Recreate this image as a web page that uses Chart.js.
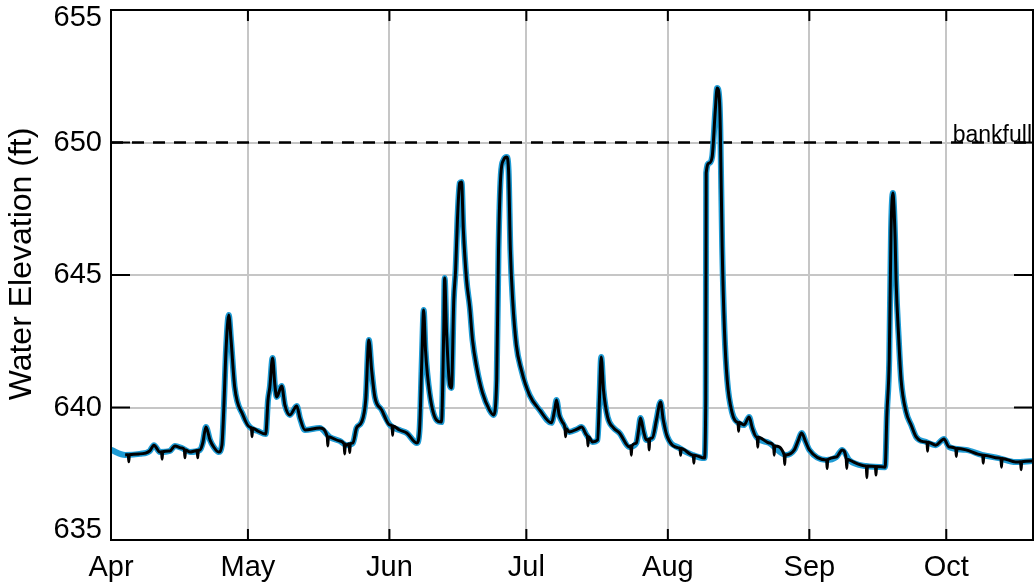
<!DOCTYPE html>
<html>
<head>
<meta charset="utf-8">
<script src="https://cdn.jsdelivr.net/npm/chart.js@4.4.1/dist/chart.umd.min.js"></script>
<style>
  html, body { margin: 0; padding: 0; background: #fff; }
  #wrap { width: 1035px; height: 588px; }
</style>
</head>
<body>
<div id="wrap"><canvas id="stage" width="1035" height="588"></canvas></div>
<script>
// days since Apr 1, water elevation (ft)
const modeled = [
  [0,638.40],[3.1,638.21],[6.3,638.25],[8.5,638.36],[9.4,638.58],[10.7,638.32],[12.9,638.36],[14.0,638.55],
  [15.5,638.47],[17.3,638.32],[19.5,638.40],[20.1,638.66],[20.8,639.26],[21.7,638.77],[22.5,638.51],[23.6,638.32],
  [24.3,638.58],[24.7,639.91],[25.2,642.17],[25.8,643.49],[26.3,642.55],[27.1,640.77],[28.9,639.72],[30.4,639.26],
  [32.2,639.11],[33.9,639.00],[34.4,640.28],[34.8,640.77],[35.4,641.87],[35.9,640.85],[36.3,640.40],[37.4,640.81],
  [38.1,640.09],[39.2,639.72],[40.7,640.06],[41.4,639.60],[42.5,639.15],[45.7,639.23],[47.9,638.89],[50.1,638.74],
  [51.6,638.58],[53.0,638.66],[53.8,639.23],[54.9,639.45],[55.8,640.28],[56.5,642.55],[57.1,641.42],[57.8,640.40],
  [59.3,639.91],[61.1,639.34],[63.2,639.15],[64.8,639.04],[67.0,638.66],[67.6,639.15],[68.1,641.79],[68.5,643.68],
  [68.9,642.17],[69.8,640.55],[71.3,639.53],[72.4,639.45],[72.9,642.92],[73.1,644.89],[73.5,642.92],[74.2,640.85],
  [74.6,640.74],[75.1,644.06],[75.5,645.19],[75.9,647.08],[76.4,648.47],[76.8,648.51],[77.2,646.70],[77.9,644.81],
  [78.6,643.79],[79.2,642.55],[80.1,641.53],[81.4,640.55],[82.9,639.91],[83.8,639.72],[84.5,641.04],[84.9,645.94],
  [85.4,648.77],[86.0,649.34],[86.7,649.45],[87.1,648.96],[87.5,645.94],[88.0,644.06],[88.8,642.36],[89.9,641.42],
  [91.7,640.47],[93.9,639.91],[96.5,639.42],[97.2,639.91],[97.6,640.28],[98.2,639.72],[98.9,639.45],[100.4,639.08],
  [102.2,639.19],[103.1,639.26],[104.2,638.96],[105.5,638.70],[106.6,638.77],[107.0,640.28],[107.4,641.91],[107.9,640.66],
  [108.8,639.64],[110.1,639.23],[111.4,639.04],[113.6,638.51],[115.1,638.66],[115.6,639.15],[116.0,639.60],[116.7,639.08],
  [117.3,638.77],[118.6,638.85],[119.5,639.53],[120.4,640.21],[121.0,639.53],[121.9,638.89],[124.5,638.47],[127.4,638.21],
  [130.0,638.09],[130.3,640.28],[130.4,648.85],[131.1,649.23],[131.7,649.45],[132.4,651.23],[132.8,652.06],[133.3,651.60],
  [133.5,650.47],[133.9,646.06],[134.4,642.92],[135.0,641.04],[136.1,639.79],[137.2,639.45],[138.7,639.34],[139.8,639.64],
  [140.5,639.23],[141.4,638.89],[144.2,638.66],[147.9,638.21],[149.7,638.40],[150.6,638.77],[151.3,639.04],[152.2,638.70],
  [153.0,638.40],[156.7,638.02],[158.9,638.13],[160.2,638.40],[161.7,638.02],[165.4,637.79],[169.6,637.75],[170.0,639.79],
  [170.5,641.79],[170.9,646.70],[171.3,648.09],[171.8,646.32],[172.0,644.81],[172.6,642.55],[173.1,641.04],[174.2,639.83],
  [175.3,639.34],[176.4,638.89],[178.6,638.70],[180.7,638.58],[182.5,638.81],[183.6,638.51],[187.3,638.40],[190.8,638.21],
  [194.5,638.09],[198.2,637.94],[201.8,637.98]
];

// short downward spikes in the gauge record: [day, level around it, bottom of spike]
const gaugeDips = [
  [3.9,638.22,637.95],[11.2,638.33,638.05],[16.2,638.40,638.10],[19.0,638.38,638.10],[30.9,639.22,638.90],
  [47.5,638.90,638.55],[51.2,638.62,638.25],[52.3,638.63,638.30],[61.7,639.30,638.95],[99.6,639.20,638.90],
  [104.5,638.90,638.55],[114.0,638.55,638.20],[117.9,638.80,638.40],[124.8,638.45,638.20],[127.7,638.20,637.90],
  [137.5,639.43,639.10],[141.7,638.88,638.50],[145.3,638.55,638.20],[147.6,638.22,637.85],[156.9,638.03,637.70],
  [161.2,638.05,637.70],[165.6,637.79,637.35],[167.6,637.77,637.45],[178.9,638.69,638.35],[185.2,638.45,638.15],
  [191.1,638.20,637.90],[195.1,638.08,637.75],[199.4,637.95,637.65]
];
const gaugeStart = 3.1;

const monthDays = [0, 30, 61, 91, 122, 153, 183];
const monthNames = ['Apr', 'May', 'Jun', 'Jul', 'Aug', 'Sep', 'Oct'];
const elevTicks = [635, 640, 645, 650, 655];
const bankfull = 650;
const dayEnd = 202;

const FONT = '"Liberation Sans", Arial, Helvetica, sans-serif';

const modeledPts = modeled.map(p => ({ x: p[0], y: p[1] }));
const gaugePts = modeled.filter(p => p[0] >= gaugeStart).map(p => ({ x: p[0], y: p[1] }));
gaugeDips.forEach(([d, base, low]) => {
  gaugePts.push({ x: d - 0.12, y: base }, { x: d, y: low }, { x: d + 0.12, y: base });
});
gaugePts.sort((a, b) => a.x - b.x);

// box round the plot with short inward ticks, y labels kept inside the box, titles
const frame = {
  id: 'frame',
  afterDatasetsDraw(chart) {
    const { ctx, chartArea: a, scales: { x, y } } = chart;
    ctx.save();
    ctx.strokeStyle = '#000';
    ctx.lineWidth = 2;
    ctx.beginPath();
    monthDays.forEach(d => {
      const px = x.getPixelForValue(d);
      ctx.moveTo(px, a.bottom); ctx.lineTo(px, a.bottom - 11);
      ctx.moveTo(px, a.top); ctx.lineTo(px, a.top + 11);
    });
    elevTicks.forEach(v => {
      const py = y.getPixelForValue(v);
      ctx.moveTo(a.left, py); ctx.lineTo(a.left + 19, py);
      ctx.moveTo(a.right, py); ctx.lineTo(a.right - 19, py);
    });
    ctx.stroke();
    ctx.strokeRect(a.left, a.top, a.right - a.left, a.bottom - a.top);

    ctx.fillStyle = '#000';
    ctx.font = '29px ' + FONT;
    ctx.textAlign = 'right';
    ctx.textBaseline = 'middle';
    elevTicks.forEach(v => {
      const py = Math.min(Math.max(y.getPixelForValue(v), a.top + 8), a.bottom - 10);
      ctx.fillText(String(v), a.left - 9, py);
    });

    ctx.font = '23px ' + FONT;
    ctx.textBaseline = 'alphabetic';
    ctx.fillText('bankfull', a.right - 1, y.getPixelForValue(bankfull) - 1);

    ctx.translate(22, 264);
    ctx.rotate(-Math.PI / 2);
    ctx.font = '32px ' + FONT;
    ctx.textAlign = 'center';
    ctx.textBaseline = 'middle';
    ctx.fillText('Water Elevation (ft)', 0, 0);
    ctx.restore();
  }
};

new Chart(document.getElementById('stage'), {
  type: 'line',
  data: {
    datasets: [
      {
        label: 'gauge',
        data: gaugePts,
        borderColor: '#000',
        borderWidth: 3,
        pointRadius: 0,
        cubicInterpolationMode: 'monotone',
        borderJoinStyle: 'round',
        order: 0
      },
      {
        label: 'model',
        data: modeledPts,
        borderColor: '#1f9bd4',
        borderWidth: 6,
        pointRadius: 0,
        cubicInterpolationMode: 'monotone',
        borderJoinStyle: 'round',
        order: 1
      },
      {
        label: 'bankfull',
        data: [{ x: 0, y: bankfull }, { x: dayEnd, y: bankfull }],
        borderColor: '#000',
        borderWidth: 2.5,
        borderDash: [12, 9],
        pointRadius: 0,
        order: 2
      }
    ]
  },
  options: {
    responsive: false,
    animation: false,
    layout: { padding: { left: 0, right: 2, top: 10, bottom: 0 } },
    plugins: {
      legend: { display: false },
      tooltip: { enabled: false }
    },
    scales: {
      x: {
        type: 'linear',
        min: 0,
        max: dayEnd,
        afterBuildTicks: s => { s.ticks = monthDays.map(v => ({ value: v })); },
        ticks: {
          autoSkip: false,
          maxRotation: 0,
          padding: 11,
          color: '#000',
          font: { family: FONT, size: 29 },
          callback: v => monthNames[monthDays.indexOf(v)]
        },
        grid: { color: '#c6c6c6', lineWidth: 2, drawTicks: false },
        border: { display: false },
        afterFit: s => { s.height = 48; s.paddingLeft = 0; s.paddingRight = 0; }
      },
      y: {
        min: 635,
        max: 655,
        afterBuildTicks: s => { s.ticks = elevTicks.map(v => ({ value: v })); },
        ticks: { display: false },
        grid: { color: '#c6c6c6', lineWidth: 2, drawTicks: false },
        border: { display: false },
        afterFit: s => { s.width = 111; s.paddingTop = 0; s.paddingBottom = 0; }
      }
    }
  },
  plugins: [frame]
});
</script>
</body>
</html>
